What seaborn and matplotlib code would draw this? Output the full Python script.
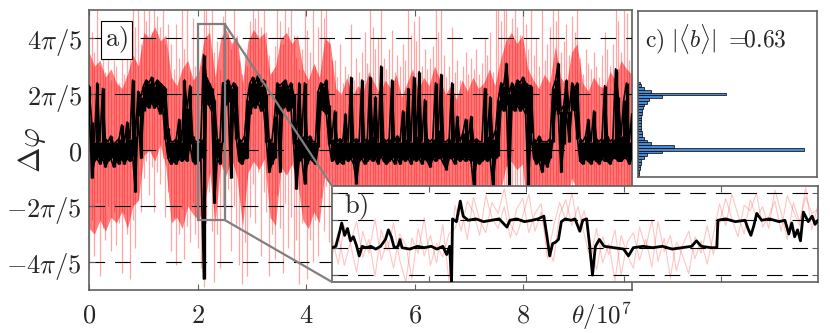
import numpy as np
import matplotlib
matplotlib.use("Agg")
import matplotlib.pyplot as plt
import seaborn as sns
from matplotlib.patches import Rectangle, ConnectionPatch

# all phase values below are in units of pi/5
# black trace of panel a): upper / lower reach of the thick noisy line every 0.05 (x 10^7)
black_hi = [
    2.3, 1.0, 0.3, 2.4, 0.3, 2.2, 0.4, 0.3, 0.5, 0.2,
    0.3, 0.4, 0.9, 0.3, 1.0, 0.4, 2.5, 0.5, 2.1, 1.9,
    2.3, 2.5, 2.4, 2.6, 2.3, 2.5, 2.4, 2.3, 2.2, 0.8,
    0.3, 0.3, 0.4, 1.1, 0.3, 2.5, 1.5, 2.3, 0.5, 0.3,
    0.3, 0.4, 3.4, 2.6, 2.4, 2.2, 1.8, 0.4, 0.3, 2.4,
    2.4, 2.5, 2.2, 2.4, 2.3, 0.4, 0.3, 0.5, 1.8, 2.4,
    2.6, 2.4, 2.7, 2.3, 2.5, 2.0, 0.4, 0.3, 1.2, 2.4,
    2.3, 2.4, 2.5, 2.2, 2.4, 2.0, 0.4, 2.4, 0.5, 2.4,
    0.4, 0.5, 0.3, 0.3, 2.1, 2.4, 2.3, 2.5, 1.6, 0.4,
    1.4, 0.3, 0.4, 0.3, 1.3, 0.3, 2.6, 0.3, 0.4, 0.3,
    2.5, 0.3, 0.4, 2.6, 0.5, 1.9, 0.3, 3.0, 0.4, 0.3,
    0.4, 2.5, 0.3, 0.5, 0.3, 1.4, 0.4, 2.2, 0.3, 2.6,
    0.5, 2.8, 0.3, 1.8, 0.4, 0.3, 0.4, 2.4, 0.7, 2.7,
    0.3, 0.3, 0.4, 2.4, 0.3, 1.2, 0.3, 0.6, 1.1, 0.4,
    1.2, 0.3, 0.4, 0.3, 0.3, 2.2, 0.5, 1.9, 0.4, 0.7,
    1.8, 2.4, 2.3, 3.1, 2.0, 2.4, 2.2, 2.5, 2.4, 2.6,
    2.4, 2.3, 2.3, 0.4, 0.3, 0.5, 0.3, 0.3, 0.3, 0.4,
    2.2, 2.5, 3.1, 1.4, 1.6, 2.5, 1.4, 2.4, 2.2, 2.4,
    0.4, 0.3, 0.5, 1.1, 0.3, 1.4, 0.4, 0.3, 0.4, 2.3,
    0.5, 0.3, 0.4, 2.9, 1.9, 0.5, 1.8, 2.4, 0.3, 1.3,
]
black_lo = [
    1.8, -1.0, -0.4, -0.3, -0.5, -0.3, -0.6, -0.4, -0.3, -0.6,
    -0.4, -0.5, -0.3, -0.5, -0.3, -0.4, -0.2, -1.5, 1.2, -0.3,
    1.4, 1.6, 1.5, 1.7, 1.5, 1.6, 1.3, 1.5, 0.4, -0.3,
    -0.5, -0.4, -0.5, -0.3, -0.4, -0.3, -0.4, 0.2, -0.4, -0.5,
    -0.4, -0.3, -4.6, 1.7, 1.6, 1.4, -1.9, -0.3, -0.5, 0.3,
    1.6, 1.7, -1.0, 1.5, 0.4, -0.4, -0.5, -0.3, -0.3, 1.3,
    1.6, 1.5, 1.7, 1.4, 1.5, 0.3, -0.8, -0.5, -0.3, 1.3,
    -0.8, 1.5, 1.6, 1.4, 1.5, 0.2, -1.4, -0.4, -0.3, -1.2,
    -0.5, -0.3, -0.4, -0.5, 0.1, 1.5, 1.4, 1.3, 0.2, -0.4,
    -0.3, -0.5, -0.4, -0.5, -0.3, -0.4, -0.3, -0.5, -1.2, -0.4,
    -0.3, -0.5, -0.4, -0.3, -0.4, -0.3, -0.5, -0.2, -0.4, -0.5,
    -0.4, -0.3, -0.5, -0.3, -0.5, -0.3, -0.4, -0.3, -0.5, -0.3,
    -0.4, -0.3, -0.5, -0.3, -0.4, -0.6, -0.3, -0.4, -0.3, -0.3,
    -0.5, -0.7, -0.3, -0.3, -0.5, -0.3, -0.4, -0.3, -0.4, -0.3,
    -0.4, -1.3, -0.4, -0.5, -0.4, -0.3, -0.4, -0.3, -1.3, -0.3,
    -0.2, 1.5, 1.4, 1.6, -1.3, 1.5, 1.4, 1.6, 1.4, 1.5,
    1.3, -1.3, 0.6, -0.3, -0.5, -0.4, -0.8, -0.4, -0.6, -0.3,
    0.3, 1.6, 1.3, -0.8, 0.2, 1.3, 0.3, 1.5, 1.4, 0.4,
    -0.4, -0.5, -0.3, -0.4, -0.5, -0.3, -0.4, -0.5, -0.3, -0.4,
    -0.4, -0.5, -0.3, -0.3, -0.4, -0.4, -0.3, -0.3, -0.5, -0.3,
]

# extreme reach of the faint red trajectories, same sampling
red_hi = [
    5.0, 4.2, 3.5, 5.0, 3.0, 4.6, 2.8, 3.9, 2.5, 3.2,
    3.0, 2.4, 3.6, 2.7, 3.3, 4.0, 5.0, 4.4, 5.0, 3.8,
    5.0, 4.6, 5.0, 4.2, 5.0, 4.8, 4.4, 5.0, 3.8, 4.5,
    3.8, 2.9, 4.5, 3.3, 5.0, 3.6, 5.0, 2.8, 4.7, 3.0,
    4.1, 3.0, 5.0, 5.0, 4.5, 5.0, 3.5, 3.9, 2.9, 4.8,
    5.0, 4.3, 3.6, 5.0, 4.0, 3.2, 2.7, 3.5, 3.0, 4.6,
    5.0, 4.7, 5.0, 4.4, 5.0, 4.2, 3.4, 2.8, 3.7, 5.0,
    4.6, 3.8, 5.0, 4.4, 5.0, 4.1, 3.3, 2.9, 3.6, 5.0,
    4.3, 3.5, 5.0, 3.0, 4.4, 5.0, 4.7, 5.0, 4.0, 3.2,
    3.2, 2.6, 3.8, 2.4, 3.0, 2.7, 4.5, 2.5, 3.3, 2.8,
    3.5, 4.2, 3.1, 5.0, 4.4, 3.6, 4.0, 5.0, 3.3, 2.9,
    3.6, 4.3, 2.8, 3.4, 3.0, 3.8, 3.2, 5.0, 4.1, 4.6,
    3.9, 4.8, 3.0, 3.6, 2.9, 3.3, 3.7, 5.0, 4.2, 5.0,
    3.4, 2.6, 3.0, 4.4, 2.8, 3.2, 2.5, 3.0, 3.5, 2.7,
    3.3, 2.9, 3.6, 2.7, 3.1, 4.0, 3.4, 4.2, 2.8, 5.0,
    5.0, 4.6, 5.0, 5.0, 3.8, 4.7, 5.0, 4.4, 4.1, 5.0,
    4.5, 3.6, 5.0, 3.4, 4.0, 3.0, 5.0, 3.2, 3.8, 4.4,
    5.0, 4.6, 5.0, 3.5, 3.9, 4.5, 3.4, 4.8, 4.2, 5.0,
    3.3, 2.7, 3.6, 3.1, 2.9, 3.5, 3.0, 2.6, 3.4, 4.2,
    3.6, 3.0, 3.8, 5.0, 4.6, 3.5, 5.0, 4.9, 3.2, 3.9,
]
red_lo = [
    -4.3, -2.5, -3.8, -1.9, -4.5, -2.8, -3.2, -2.0, -3.6, -2.2,
    -3.4, -2.6, -4.4, -2.3, -3.0, -4.6, -2.5, -3.5, -1.8, -2.2,
    -1.0, -0.4, -1.6, -0.6, -2.2, -0.8, -1.2, -0.3, -2.4, -1.5,
    -3.6, -2.4, -4.1, -3.0, -2.1, -3.9, -2.7, -3.3, -1.9, -3.0,
    -3.5, -4.2, -4.9, -2.6, -1.5, -2.9, -4.7, -3.0, -4.2, -2.0,
    -2.2, -1.4, -3.6, -2.0, -2.7, -4.1, -4.8, -3.3, -4.5, -2.4,
    -1.2, -2.6, -0.8, -3.8, -1.5, -2.2, -4.5, -3.0, -3.9, -1.6,
    -2.8, -4.4, -1.9, -3.5, -2.4, -4.0, -3.2, -4.8, -2.6, -2.0,
    -4.6, -3.2, -4.0, -2.5, -3.8, -1.7, -2.9, -1.3, -3.3, -2.1,
    -2.4, -1.8, -3.0, -2.2, -2.7, -1.9, -2.5, -3.1, -2.0, -2.6,
    -2.3, -2.9, -1.8, -2.5, -3.2, -2.1, -2.7, -2.0, -2.8, -2.4,
    -2.6, -2.0, -3.0, -2.3, -1.9, -2.8, -2.2, -2.5, -3.1, -2.0,
    -2.5, -2.1, -2.9, -2.4, -1.8, -2.7, -2.3, -3.0, -2.0, -2.6,
    -2.2, -2.8, -2.0, -2.5, -3.1, -2.3, -1.9, -2.7, -2.4, -2.9,
    -2.1, -2.6, -3.0, -2.2, -2.5, -1.9, -2.8, -2.3, -2.7, -2.0,
    -1.6, -2.0, -1.4, -2.2, -1.8, -1.5, -2.1, -1.7, -1.9, -1.6,
    -2.0, -2.7, -1.8, -2.5, -2.9, -2.2, -2.6, -2.0, -3.0, -2.4,
    -1.7, -2.1, -1.5, -2.6, -2.3, -1.8, -2.5, -1.6, -2.0, -1.9,
    -2.6, -2.2, -2.9, -2.0, -2.5, -2.8, -2.1, -2.7, -2.3, -2.4,
    -2.5, -2.1, -2.8, -1.9, -2.4, -2.6, -2.0, -2.2, -2.7, -2.3,
]

# dense part of the red band, sampled every 0.1
core_hi = [
    3.5, 3.0, 3.2, 2.6, 2.9, 2.4, 2.2, 2.7, 3.4, 3.0,
    4.2, 4.0, 4.4, 3.9, 4.1, 2.6, 2.3, 2.9, 3.2, 2.5,
    2.8, 4.0, 4.2, 2.6, 4.0, 4.3, 3.8, 4.1, 2.4, 3.9,
    4.3, 4.0, 4.2, 2.7, 3.0, 4.0, 4.2, 3.8, 4.1, 2.9,
    2.5, 3.1, 2.6, 4.0, 3.8, 2.2, 2.0, 2.6, 1.9, 2.3,
    2.1, 2.8, 2.4, 2.0, 2.5, 2.2, 2.7, 1.9, 2.4, 2.9,
    2.1, 2.6, 2.3, 3.0, 2.5, 2.0, 2.3, 1.8, 2.5, 2.1,
    2.6, 2.2, 2.4, 2.9, 2.3, 3.2, 3.9, 4.2, 3.8, 4.1,
    2.9, 2.5, 2.2, 2.7, 2.4, 3.7, 2.6, 2.3, 3.5, 3.8,
    2.4, 2.1, 2.6, 2.3, 2.2, 2.8, 2.5, 3.2, 2.9, 2.7,
]
core_lo = [
    -2.8, -3.0, -2.5, -2.9, -2.4, -2.6, -2.2, -2.8, -2.0, -1.8,
    -0.2, 0.0, -0.4, 0.2, -0.6, -2.6, -2.4, -2.8, -2.0, -2.3,
    -2.5, -2.0, -0.8, -2.6, -0.5, -0.9, -0.3, -1.0, -2.7, -0.8,
    -0.4, -0.7, -0.3, -2.4, -2.7, -0.6, -0.9, -0.5, -1.1, -2.5,
    -2.8, -2.2, -2.6, -0.8, -1.2, -2.0, -2.3, -1.9, -2.4, -2.1,
    -2.0, -2.5, -2.2, -1.9, -2.4, -2.1, -2.6, -2.0, -2.3, -2.2,
    -2.4, -2.0, -2.5, -2.1, -2.3, -1.9, -2.6, -2.2, -2.0, -2.4,
    -2.1, -2.5, -2.0, -2.3, -2.2, -1.5, -0.6, -0.4, -0.7, -0.5,
    -2.3, -2.0, -2.5, -2.1, -2.4, -1.2, -2.2, -2.0, -1.0, -1.4,
    -2.2, -2.5, -2.0, -2.3, -2.1, -2.4, -2.0, -2.2, -2.6, -2.3,
]

# panel b) zoom on 2.0 .. 2.5
inset_x = [
    2.000, 2.004, 2.008, 2.010, 2.013, 2.016, 2.019, 2.022, 2.025, 2.028,
    2.031, 2.035, 2.040, 2.045, 2.050, 2.055, 2.058, 2.061, 2.064, 2.068,
    2.070, 2.072, 2.080, 2.088, 2.095, 2.102, 2.108, 2.114, 2.118, 2.121,
    2.123, 2.124, 2.128, 2.132, 2.135, 2.140, 2.148, 2.156, 2.164, 2.172,
    2.180, 2.183, 2.190, 2.198, 2.206, 2.212, 2.218, 2.221, 2.224, 2.227,
    2.230, 2.233, 2.236, 2.240, 2.246, 2.250, 2.255, 2.258, 2.262, 2.265,
    2.268, 2.271, 2.275, 2.280, 2.290, 2.300, 2.305, 2.310, 2.320, 2.330,
    2.340, 2.350, 2.360, 2.370, 2.375, 2.380, 2.390, 2.396, 2.397, 2.405,
    2.415, 2.425, 2.428, 2.431, 2.434, 2.437, 2.442, 2.450, 2.460, 2.466,
    2.470, 2.473, 2.476, 2.479, 2.482, 2.485, 2.490, 2.494, 2.497, 2.500,
]
inset_v = [
    0.0, 0.1, 1.2, 1.8, 0.9, 1.4, 0.5, 0.8, 0.2, -0.6,
    0.1, 0.0, 0.1, -0.1, 0.1, 0.6, 1.3, 0.8, 0.0, 0.1,
    0.6, 0.0, -0.1, 0.1, 0.0, 0.1, -0.1, 0.1, -0.5, 0.1,
    -2.5, 2.1, 1.9, 3.4, 2.3, 2.0, 2.1, 1.9, 2.0, 2.1,
    1.5, 2.0, 2.1, 1.9, 2.0, 2.1, 2.3, 0.9, -0.6, 0.3,
    0.4, 0.6, 1.9, 2.1, 2.0, 2.1, 1.2, 2.0, 2.1, 0.2,
    -2.0, 0.1, 0.6, 0.1, 0.0, -0.1, -0.6, 0.0, 0.1, 0.0,
    0.1, -0.1, 0.0, 0.1, 0.5, 0.1, 0.0, 0.0, 2.0, 2.1,
    1.9, 2.0, 1.4, 0.9, 1.6, 2.5, 2.0, 2.1, 1.9, 2.0,
    1.0, 1.8, 0.8, 1.3, 0.5, 2.6, 1.9, 2.3, 1.7, 2.0,
]
inset_red1 = [
    0.8, -1.2, 1.6, 0.3, -1.8, 1.2, -0.4, 2.1, -0.9, 0.5,
    -1.5, 1.0, 0.2, -2.3, 1.4, -0.6, 0.9, -1.1, 1.7, -2.4,
    3.1, 1.2, 3.4, 2.6, 0.9, 3.8, 2.2, 1.4, 3.0, 0.7,
    2.8, 3.6, 1.1, 2.5, 3.2, -0.8, 1.5, 3.3, 2.0, 4.0,
    1.3, 2.7, 0.4, -1.6, 0.8, -0.5, 1.3, -2.0, 0.4, 1.1,
    -0.9, 0.6, -1.4, 1.9, -0.3, 0.9, -1.7, 0.2, 1.2, -0.8,
    0.5, -1.2, 1.0, 3.2, 1.6, 3.9, 2.4, 1.0, 3.5, 2.2,
    3.0, 1.4, 4.2, 2.6, 0.6, 3.3, 1.9, 3.7, 2.5, 2.8,
]
inset_red2 = [
    -0.6, 1.1, -1.3, 0.4, 1.9, -0.7, 0.6, -2.1, 1.3, -0.2,
    1.8, -0.9, -2.5, 0.7, -0.4, 2.2, -1.3, 0.3, -0.7, 1.0,
    1.4, 2.9, 0.6, 3.7, 2.0, 1.1, 3.3, 2.5, 4.3, 1.7,
    0.9, 2.3, 3.9, 1.2, 2.6, 0.2, -1.0, 2.4, 3.5, 1.6,
    3.0, 1.0, -0.9, 1.4, -1.1, 0.3, -2.4, 0.9, -0.5, -1.5,
    1.5, 0.0, 2.0, -1.0, 0.7, -2.2, 0.4, -0.6, -1.9, 0.8,
    -0.4, 1.6, -0.5, 1.8, 3.6, 2.1, 0.8, 3.1, 2.7, 4.0,
    1.5, 2.3, 3.4, 1.2, 3.8, 2.7, 1.6, 4.4, 1.3, 3.1,
]

# panel c) histogram, bins of width pi/50 from -9 to 24
hist_bins = list(range(-9, 25))
hist_counts = [
    1.0, 1.2, 1.5, 2.0, 2.5, 3.0, 6.0, 9.0, 24.0, 166.0,
    36.0, 13.0, 9.0, 6.0, 4.3, 3.5, 3.0, 3.0, 2.8, 2.8,
    2.8, 3.0, 3.5, 4.0, 5.0, 6.0, 9.0, 11.0, 24.0, 88.0,
    13.0, 6.0, 3.0, 1.7,
]

U = np.pi / 5
sns.set_style("white")
plt.rcParams["mathtext.fontset"] = "cm"
plt.rcParams["font.family"] = ["DejaVu Serif"]
spine_col = "#606060"
dash = (0, (14, 9))

fig = plt.figure(figsize=(8.3, 3.33), dpi=100)

# ---- panel a
ax = fig.add_axes([0.1072, 0.1291, 0.6542, 0.8408])
t = np.linspace(0, 10, len(black_hi))
t_core = np.linspace(0, 10, len(core_hi))
ax.fill_between(t_core, np.array(core_lo) * U, np.array(core_hi) * U,
                color="#ff2020", alpha=0.58, lw=0, zorder=1)
ax.vlines(t, np.array(red_lo) * U, np.array(red_hi) * U,
          color="#ff0000", alpha=0.35, lw=0.9, zorder=1.2)
ax.vlines(t, np.array(black_lo) * U, np.array(black_hi) * U,
          color="black", lw=2.4, zorder=3)
sns.lineplot(x=t, y=np.array(black_hi) * U, ax=ax, color="black", lw=1.2,
             estimator=None, sort=False, zorder=3)
sns.lineplot(x=t, y=np.array(black_lo) * U, ax=ax, color="black", lw=1.2,
             estimator=None, sort=False, zorder=3)
ax.set_xlim(0, 10)
ax.set_ylim(-np.pi, np.pi)
ax.set_xticks([0, 2, 4, 6, 8])
ax.set_xticklabels(["$0$", "$2$", "$4$", "$6$", "$8$"])
ax.set_yticks([-4 * U, -2 * U, 0, 2 * U, 4 * U])
ax.set_yticklabels([r"$-4\pi/5$", r"$-2\pi/5$", "$0$", r"$2\pi/5$", r"$4\pi/5$"])
ax.tick_params(direction="in", length=4, width=0.8, color=spine_col,
               top=True, bottom=True, left=True, right=False, labelsize=19)
ax.tick_params(axis="x", pad=9)
ax.tick_params(axis="y", pad=5)
ax.set_axisbelow(False)
ax.yaxis.grid(True, color="black", lw=0.8, linestyle=dash)
ax.xaxis.grid(False)
for s in ax.spines.values():
    s.set_color(spine_col)
    s.set_linewidth(1.2)
ax.set_ylabel(r"$\Delta\varphi$", fontsize=22)
ax.yaxis.set_label_coords(-0.075, 0.5)
ax.text(10.0, -0.035, r"$\theta/10^7$", transform=ax.get_xaxis_transform(),
        ha="right", va="top", fontsize=18)
ax.text(0.3, 2.47, r"$\mathrm{a)}$", fontsize=19, ha="left", va="center",
        bbox=dict(boxstyle="square,pad=0.15", fc="white", ec="black", lw=0.8), zorder=6)

# zoom window
ax.add_patch(Rectangle((2.0, -np.pi / 2), 0.5, 1.4 * np.pi, fill=False,
                       ec="#808080", lw=1.6, zorder=5))

# ---- panel b
axb = fig.add_axes([0.4, 0.1532, 0.5855, 0.2883])
tb = np.linspace(2.0, 2.5, len(inset_red1))
sns.lineplot(x=tb, y=np.array(inset_red1) * U, ax=axb, color="#ff3030", alpha=0.28, lw=0.8,
             estimator=None, sort=False)
sns.lineplot(x=tb, y=np.array(inset_red2) * U, ax=axb, color="#ff3030", alpha=0.28, lw=0.8,
             estimator=None, sort=False)
sns.lineplot(x=inset_x, y=np.array(inset_v) * U, ax=axb, color="black", lw=2.0,
             estimator=None, sort=False, zorder=3)
axb.set_xlim(2.0, 2.5)
axb.set_ylim(-np.pi / 2, 0.9 * np.pi)
axb.set_xticks([2.1, 2.2, 2.3, 2.4])
axb.set_yticks([-2 * U, 0, 2 * U, 4 * U])
axb.set_xticklabels([])
axb.set_yticklabels([])
axb.tick_params(direction="in", length=4, width=0.8, color=spine_col,
                top=True, bottom=True, left=True, right=True)
axb.set_axisbelow(False)
axb.yaxis.grid(True, color="black", lw=0.8, linestyle=dash)
axb.xaxis.grid(False)
for s in axb.spines.values():
    s.set_color(spine_col)
    s.set_linewidth(1.2)
axb.text(0.025, 0.78, r"$\mathrm{b)}$", transform=axb.transAxes, fontsize=19,
         ha="left", va="center")

for ya, yb in [(0.9 * np.pi, 1.0), (-np.pi / 2, 0.0)]:
    con = ConnectionPatch(xyA=(2.5, ya), coordsA=ax.transData,
                          xyB=(0.0, yb), coordsB=axb.transAxes,
                          color="#808080", lw=1.6)
    fig.add_artist(con)

# ---- panel c
axc = fig.add_axes([0.7687, 0.4685, 0.2157, 0.4985])
axc.barh(np.array(hist_bins) * np.pi / 50, hist_counts, height=np.pi / 50,
         color="#4a8ad4", edgecolor="black", lw=0.5)
axc.set_ylim(-U, np.pi)
axc.set_xlim(0, 179)
axc.set_xticks([])
axc.set_yticks([])
for s in axc.spines.values():
    s.set_color(spine_col)
    s.set_linewidth(1.2)
axc.text(0.04, 0.83, r"$\mathrm{c)}\ |\langle b\rangle|\ =\!\!0.63$", transform=axc.transAxes,
         fontsize=17, ha="left", va="center")

fig.savefig("out.png", dpi=100)
